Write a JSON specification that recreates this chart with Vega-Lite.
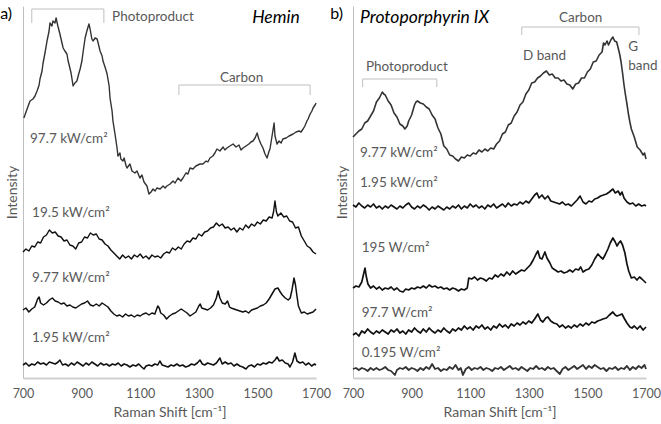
{
"$schema":"https://vega.github.io/schema/vega-lite/v6.json",
"padding":{"left":0,"top":5,"right":0,"bottom":0},
"autosize":{"type":"pad"},
"bounds":"flush",
"spacing":37,
"config":{"view":{"stroke":null},"font":"Lato",
"axisX":{"ticks":false,"grid":false,"labelPadding":9,"labelFontSize":12.5,"labelColor":"#595959","labelFlush":false,"labelOverlap":false,"titleFontSize":14,"titleFontWeight":"normal","titleColor":"#595959","titlePadding":6,"domainColor":"#d0d0d0","domainWidth":2},
"axisY":{"labels":false,"ticks":false,"grid":false,"titleFontSize":14,"titleFontWeight":"normal","titleColor":"#595959","titlePadding":4,"domainColor":"#bfbfbf","domainWidth":1}},
"datasets":{
"hemin":[
{"s":"h1","x":703,"y":260},{"s":"h1","x":714,"y":269},{"s":"h1","x":724,"y":277},{"s":"h1","x":734,"y":279},{"s":"h1","x":741,"y":282},{"s":"h1","x":748,"y":287},{"s":"h1","x":755,"y":293},{"s":"h1","x":758,"y":299},{"s":"h1","x":765,"y":307},{"s":"h1","x":768,"y":314},{"s":"h1","x":775,"y":325},{"s":"h1","x":782,"y":337},{"s":"h1","x":789,"y":347},{"s":"h1","x":792,"y":355},{"s":"h1","x":799,"y":352},{"s":"h1","x":802,"y":357},{"s":"h1","x":809,"y":355},{"s":"h1","x":813,"y":360},{"s":"h1","x":819,"y":352},{"s":"h1","x":826,"y":344},{"s":"h1","x":833,"y":335},{"s":"h1","x":837,"y":330},{"s":"h1","x":843,"y":327},{"s":"h1","x":850,"y":324},{"s":"h1","x":854,"y":317},{"s":"h1","x":860,"y":310},{"s":"h1","x":864,"y":305},{"s":"h1","x":871,"y":292},{"s":"h1","x":877,"y":295},{"s":"h1","x":884,"y":297},{"s":"h1","x":891,"y":305},{"s":"h1","x":895,"y":309},{"s":"h1","x":901,"y":317},{"s":"h1","x":908,"y":332},{"s":"h1","x":912,"y":340},{"s":"h1","x":918,"y":347},{"s":"h1","x":925,"y":354},{"s":"h1","x":929,"y":349},{"s":"h1","x":935,"y":339},{"s":"h1","x":939,"y":337},{"s":"h1","x":946,"y":340},{"s":"h1","x":953,"y":339},{"s":"h1","x":959,"y":332},{"s":"h1","x":963,"y":327},{"s":"h1","x":970,"y":322},{"s":"h1","x":973,"y":317},{"s":"h1","x":980,"y":311},{"s":"h1","x":987,"y":304},{"s":"h1","x":994,"y":292},{"s":"h1","x":997,"y":280},{"s":"h1","x":1004,"y":267},{"s":"h1","x":1007,"y":257},{"s":"h1","x":1014,"y":244},{"s":"h1","x":1021,"y":230},{"s":"h1","x":1024,"y":222},{"s":"h1","x":1031,"y":225},{"s":"h1","x":1034,"y":219},{"s":"h1","x":1041,"y":217},{"s":"h1","x":1045,"y":220},{"s":"h1","x":1052,"y":212},{"s":"h1","x":1055,"y":210},{"s":"h1","x":1065,"y":214},{"s":"h1","x":1072,"y":207},{"s":"h1","x":1082,"y":205},{"s":"h1","x":1089,"y":207},{"s":"h1","x":1099,"y":200},{"s":"h1","x":1106,"y":203},{"s":"h1","x":1113,"y":196},{"s":"h1","x":1123,"y":192},{"s":"h1","x":1130,"y":184},{"s":"h1","x":1137,"y":186},{"s":"h1","x":1144,"y":189},{"s":"h1","x":1151,"y":187},{"s":"h1","x":1157,"y":190},{"s":"h1","x":1168,"y":189},{"s":"h1","x":1178,"y":192},{"s":"h1","x":1185,"y":190},{"s":"h1","x":1191,"y":192},{"s":"h1","x":1202,"y":194},{"s":"h1","x":1212,"y":197},{"s":"h1","x":1219,"y":195},{"s":"h1","x":1229,"y":200},{"s":"h1","x":1239,"y":197},{"s":"h1","x":1246,"y":200},{"s":"h1","x":1256,"y":205},{"s":"h1","x":1263,"y":204},{"s":"h1","x":1270,"y":210},{"s":"h1","x":1280,"y":209},{"s":"h1","x":1290,"y":212},{"s":"h1","x":1304,"y":214},{"s":"h1","x":1314,"y":214},{"s":"h1","x":1325,"y":217},{"s":"h1","x":1331,"y":216},{"s":"h1","x":1338,"y":220},{"s":"h1","x":1348,"y":222},{"s":"h1","x":1355,"y":225},{"s":"h1","x":1362,"y":229},{"s":"h1","x":1372,"y":227},{"s":"h1","x":1383,"y":231},{"s":"h1","x":1389,"y":228},{"s":"h1","x":1396,"y":230},{"s":"h1","x":1406,"y":232},{"s":"h1","x":1417,"y":234},{"s":"h1","x":1427,"y":231},{"s":"h1","x":1437,"y":233},{"s":"h1","x":1444,"y":228},{"s":"h1","x":1451,"y":230},{"s":"h1","x":1461,"y":232},{"s":"h1","x":1471,"y":234},{"s":"h1","x":1478,"y":236},{"s":"h1","x":1485,"y":237},{"s":"h1","x":1492,"y":240},{"s":"h1","x":1499,"y":245},{"s":"h1","x":1505,"y":239},{"s":"h1","x":1512,"y":234},{"s":"h1","x":1519,"y":230},{"s":"h1","x":1526,"y":224},{"s":"h1","x":1533,"y":220},{"s":"h1","x":1540,"y":227},{"s":"h1","x":1543,"y":229},{"s":"h1","x":1550,"y":242},{"s":"h1","x":1557,"y":255},{"s":"h1","x":1560,"y":242},{"s":"h1","x":1567,"y":234},{"s":"h1","x":1574,"y":237},{"s":"h1","x":1581,"y":235},{"s":"h1","x":1587,"y":239},{"s":"h1","x":1598,"y":240},{"s":"h1","x":1608,"y":242},{"s":"h1","x":1615,"y":243},{"s":"h1","x":1622,"y":244},{"s":"h1","x":1632,"y":246},{"s":"h1","x":1642,"y":247},{"s":"h1","x":1649,"y":246},{"s":"h1","x":1656,"y":249},{"s":"h1","x":1662,"y":252},{"s":"h1","x":1669,"y":257},{"s":"h1","x":1673,"y":259},{"s":"h1","x":1680,"y":264},{"s":"h1","x":1686,"y":267},{"s":"h1","x":1690,"y":270},{"s":"h1","x":1697,"y":273},{"s":"h1","x":1700,"y":275},
{"s":"h2","x":700,"y":126},{"s":"h2","x":710,"y":129},{"s":"h2","x":720,"y":127},{"s":"h2","x":730,"y":132},{"s":"h2","x":740,"y":131},{"s":"h2","x":750,"y":136},{"s":"h2","x":760,"y":135},{"s":"h2","x":770,"y":141},{"s":"h2","x":780,"y":143},{"s":"h2","x":790,"y":148},{"s":"h2","x":800,"y":145},{"s":"h2","x":810,"y":146},{"s":"h2","x":820,"y":142},{"s":"h2","x":830,"y":141},{"s":"h2","x":840,"y":137},{"s":"h2","x":850,"y":138},{"s":"h2","x":860,"y":133},{"s":"h2","x":870,"y":132},{"s":"h2","x":880,"y":129},{"s":"h2","x":890,"y":135},{"s":"h2","x":900,"y":136},{"s":"h2","x":910,"y":141},{"s":"h2","x":920,"y":140},{"s":"h2","x":930,"y":145},{"s":"h2","x":940,"y":143},{"s":"h2","x":950,"y":144},{"s":"h2","x":960,"y":139},{"s":"h2","x":970,"y":138},{"s":"h2","x":980,"y":134},{"s":"h2","x":990,"y":132},{"s":"h2","x":1000,"y":128},{"s":"h2","x":1010,"y":125},{"s":"h2","x":1020,"y":122},{"s":"h2","x":1030,"y":119},{"s":"h2","x":1040,"y":123},{"s":"h2","x":1050,"y":120},{"s":"h2","x":1060,"y":122},{"s":"h2","x":1070,"y":119},{"s":"h2","x":1080,"y":123},{"s":"h2","x":1090,"y":121},{"s":"h2","x":1100,"y":124},{"s":"h2","x":1110,"y":120},{"s":"h2","x":1120,"y":122},{"s":"h2","x":1130,"y":119},{"s":"h2","x":1140,"y":123},{"s":"h2","x":1150,"y":121},{"s":"h2","x":1160,"y":122},{"s":"h2","x":1170,"y":120},{"s":"h2","x":1180,"y":124},{"s":"h2","x":1190,"y":126},{"s":"h2","x":1200,"y":125},{"s":"h2","x":1210,"y":130},{"s":"h2","x":1220,"y":128},{"s":"h2","x":1230,"y":131},{"s":"h2","x":1240,"y":129},{"s":"h2","x":1250,"y":134},{"s":"h2","x":1260,"y":137},{"s":"h2","x":1270,"y":136},{"s":"h2","x":1280,"y":140},{"s":"h2","x":1290,"y":139},{"s":"h2","x":1300,"y":144},{"s":"h2","x":1310,"y":142},{"s":"h2","x":1320,"y":146},{"s":"h2","x":1330,"y":147},{"s":"h2","x":1340,"y":150},{"s":"h2","x":1350,"y":151},{"s":"h2","x":1360,"y":155},{"s":"h2","x":1370,"y":152},{"s":"h2","x":1380,"y":154},{"s":"h2","x":1390,"y":150},{"s":"h2","x":1400,"y":151},{"s":"h2","x":1410,"y":148},{"s":"h2","x":1420,"y":150},{"s":"h2","x":1430,"y":146},{"s":"h2","x":1440,"y":150},{"s":"h2","x":1450,"y":148},{"s":"h2","x":1460,"y":153},{"s":"h2","x":1470,"y":150},{"s":"h2","x":1480,"y":154},{"s":"h2","x":1490,"y":152},{"s":"h2","x":1500,"y":156},{"s":"h2","x":1510,"y":154},{"s":"h2","x":1520,"y":158},{"s":"h2","x":1530,"y":157},{"s":"h2","x":1540,"y":161},{"s":"h2","x":1550,"y":160},{"s":"h2","x":1555,"y":166},{"s":"h2","x":1560,"y":177},{"s":"h2","x":1565,"y":166},{"s":"h2","x":1570,"y":162},{"s":"h2","x":1580,"y":165},{"s":"h2","x":1590,"y":161},{"s":"h2","x":1600,"y":162},{"s":"h2","x":1610,"y":157},{"s":"h2","x":1620,"y":156},{"s":"h2","x":1630,"y":150},{"s":"h2","x":1640,"y":151},{"s":"h2","x":1650,"y":142},{"s":"h2","x":1660,"y":137},{"s":"h2","x":1670,"y":132},{"s":"h2","x":1680,"y":130},{"s":"h2","x":1690,"y":126},{"s":"h2","x":1700,"y":124},
{"s":"h3","x":700,"y":68},{"s":"h3","x":710,"y":70},{"s":"h3","x":720,"y":66},{"s":"h3","x":730,"y":69},{"s":"h3","x":740,"y":71},{"s":"h3","x":750,"y":79},{"s":"h3","x":755,"y":81},{"s":"h3","x":760,"y":75},{"s":"h3","x":770,"y":73},{"s":"h3","x":780,"y":75},{"s":"h3","x":790,"y":78},{"s":"h3","x":800,"y":80},{"s":"h3","x":810,"y":77},{"s":"h3","x":820,"y":76},{"s":"h3","x":830,"y":74},{"s":"h3","x":840,"y":75},{"s":"h3","x":850,"y":72},{"s":"h3","x":860,"y":73},{"s":"h3","x":870,"y":71},{"s":"h3","x":880,"y":70},{"s":"h3","x":890,"y":72},{"s":"h3","x":900,"y":74},{"s":"h3","x":910,"y":75},{"s":"h3","x":920,"y":77},{"s":"h3","x":930,"y":73},{"s":"h3","x":940,"y":72},{"s":"h3","x":950,"y":74},{"s":"h3","x":960,"y":72},{"s":"h3","x":970,"y":75},{"s":"h3","x":980,"y":73},{"s":"h3","x":990,"y":71},{"s":"h3","x":1000,"y":67},{"s":"h3","x":1010,"y":64},{"s":"h3","x":1020,"y":62},{"s":"h3","x":1030,"y":63},{"s":"h3","x":1040,"y":61},{"s":"h3","x":1050,"y":64},{"s":"h3","x":1060,"y":62},{"s":"h3","x":1070,"y":63},{"s":"h3","x":1080,"y":61},{"s":"h3","x":1090,"y":63},{"s":"h3","x":1100,"y":62},{"s":"h3","x":1110,"y":64},{"s":"h3","x":1120,"y":65},{"s":"h3","x":1130,"y":63},{"s":"h3","x":1140,"y":65},{"s":"h3","x":1150,"y":64},{"s":"h3","x":1160,"y":72},{"s":"h3","x":1165,"y":70},{"s":"h3","x":1170,"y":65},{"s":"h3","x":1180,"y":63},{"s":"h3","x":1190,"y":59},{"s":"h3","x":1200,"y":62},{"s":"h3","x":1210,"y":64},{"s":"h3","x":1220,"y":65},{"s":"h3","x":1230,"y":67},{"s":"h3","x":1240,"y":69},{"s":"h3","x":1250,"y":67},{"s":"h3","x":1260,"y":65},{"s":"h3","x":1270,"y":62},{"s":"h3","x":1280,"y":64},{"s":"h3","x":1290,"y":66},{"s":"h3","x":1300,"y":72},{"s":"h3","x":1305,"y":74},{"s":"h3","x":1310,"y":70},{"s":"h3","x":1320,"y":69},{"s":"h3","x":1330,"y":68},{"s":"h3","x":1340,"y":70},{"s":"h3","x":1350,"y":73},{"s":"h3","x":1360,"y":80},{"s":"h3","x":1366,"y":87},{"s":"h3","x":1372,"y":80},{"s":"h3","x":1380,"y":75},{"s":"h3","x":1390,"y":74},{"s":"h3","x":1398,"y":77},{"s":"h3","x":1405,"y":71},{"s":"h3","x":1410,"y":70},{"s":"h3","x":1420,"y":69},{"s":"h3","x":1430,"y":68},{"s":"h3","x":1440,"y":67},{"s":"h3","x":1450,"y":66},{"s":"h3","x":1460,"y":67},{"s":"h3","x":1470,"y":65},{"s":"h3","x":1480,"y":68},{"s":"h3","x":1490,"y":69},{"s":"h3","x":1500,"y":70},{"s":"h3","x":1510,"y":72},{"s":"h3","x":1520,"y":73},{"s":"h3","x":1530,"y":75},{"s":"h3","x":1540,"y":79},{"s":"h3","x":1550,"y":84},{"s":"h3","x":1560,"y":89},{"s":"h3","x":1570,"y":90},{"s":"h3","x":1578,"y":86},{"s":"h3","x":1585,"y":83},{"s":"h3","x":1595,"y":80},{"s":"h3","x":1605,"y":78},{"s":"h3","x":1612,"y":80},{"s":"h3","x":1618,"y":88},{"s":"h3","x":1625,"y":100},{"s":"h3","x":1630,"y":93},{"s":"h3","x":1635,"y":82},{"s":"h3","x":1640,"y":72},{"s":"h3","x":1650,"y":65},{"s":"h3","x":1660,"y":66},{"s":"h3","x":1670,"y":64},{"s":"h3","x":1680,"y":65},{"s":"h3","x":1690,"y":66},{"s":"h3","x":1700,"y":69},
{"s":"h4","x":700,"y":13},{"s":"h4","x":710,"y":15},{"s":"h4","x":720,"y":12},{"s":"h4","x":730,"y":14},{"s":"h4","x":740,"y":13},{"s":"h4","x":750,"y":16},{"s":"h4","x":760,"y":14},{"s":"h4","x":770,"y":15},{"s":"h4","x":780,"y":13},{"s":"h4","x":790,"y":16},{"s":"h4","x":800,"y":15},{"s":"h4","x":810,"y":14},{"s":"h4","x":820,"y":16},{"s":"h4","x":826,"y":18},{"s":"h4","x":835,"y":13},{"s":"h4","x":845,"y":14},{"s":"h4","x":855,"y":12},{"s":"h4","x":865,"y":15},{"s":"h4","x":875,"y":13},{"s":"h4","x":885,"y":16},{"s":"h4","x":895,"y":14},{"s":"h4","x":905,"y":12},{"s":"h4","x":915,"y":15},{"s":"h4","x":925,"y":13},{"s":"h4","x":935,"y":16},{"s":"h4","x":945,"y":14},{"s":"h4","x":955,"y":12},{"s":"h4","x":965,"y":15},{"s":"h4","x":975,"y":13},{"s":"h4","x":985,"y":14},{"s":"h4","x":995,"y":12},{"s":"h4","x":1005,"y":14},{"s":"h4","x":1015,"y":13},{"s":"h4","x":1025,"y":15},{"s":"h4","x":1035,"y":12},{"s":"h4","x":1045,"y":14},{"s":"h4","x":1055,"y":13},{"s":"h4","x":1065,"y":11},{"s":"h4","x":1075,"y":13},{"s":"h4","x":1085,"y":12},{"s":"h4","x":1095,"y":14},{"s":"h4","x":1105,"y":11},{"s":"h4","x":1113,"y":9},{"s":"h4","x":1120,"y":12},{"s":"h4","x":1130,"y":13},{"s":"h4","x":1140,"y":12},{"s":"h4","x":1150,"y":14},{"s":"h4","x":1160,"y":13},{"s":"h4","x":1167,"y":17},{"s":"h4","x":1175,"y":13},{"s":"h4","x":1185,"y":12},{"s":"h4","x":1195,"y":11},{"s":"h4","x":1205,"y":13},{"s":"h4","x":1215,"y":12},{"s":"h4","x":1225,"y":14},{"s":"h4","x":1235,"y":12},{"s":"h4","x":1245,"y":13},{"s":"h4","x":1255,"y":11},{"s":"h4","x":1265,"y":12},{"s":"h4","x":1275,"y":14},{"s":"h4","x":1285,"y":13},{"s":"h4","x":1295,"y":15},{"s":"h4","x":1304,"y":18},{"s":"h4","x":1312,"y":14},{"s":"h4","x":1320,"y":13},{"s":"h4","x":1330,"y":15},{"s":"h4","x":1340,"y":14},{"s":"h4","x":1350,"y":13},{"s":"h4","x":1360,"y":15},{"s":"h4","x":1372,"y":20},{"s":"h4","x":1380,"y":14},{"s":"h4","x":1390,"y":16},{"s":"h4","x":1400,"y":14},{"s":"h4","x":1410,"y":15},{"s":"h4","x":1420,"y":12},{"s":"h4","x":1430,"y":14},{"s":"h4","x":1440,"y":12},{"s":"h4","x":1450,"y":11},{"s":"h4","x":1461,"y":9},{"s":"h4","x":1470,"y":12},{"s":"h4","x":1480,"y":13},{"s":"h4","x":1490,"y":11},{"s":"h4","x":1500,"y":14},{"s":"h4","x":1510,"y":13},{"s":"h4","x":1520,"y":15},{"s":"h4","x":1530,"y":14},{"s":"h4","x":1540,"y":16},{"s":"h4","x":1550,"y":15},{"s":"h4","x":1560,"y":18},{"s":"h4","x":1567,"y":21},{"s":"h4","x":1575,"y":17},{"s":"h4","x":1585,"y":18},{"s":"h4","x":1595,"y":15},{"s":"h4","x":1605,"y":14},{"s":"h4","x":1611,"y":11},{"s":"h4","x":1620,"y":16},{"s":"h4","x":1628,"y":25},{"s":"h4","x":1635,"y":17},{"s":"h4","x":1645,"y":15},{"s":"h4","x":1655,"y":16},{"s":"h4","x":1665,"y":13},{"s":"h4","x":1675,"y":15},{"s":"h4","x":1685,"y":12},{"s":"h4","x":1695,"y":14},{"s":"h4","x":1700,"y":13}
],
"ppix":[
{"s":"p1","x":700,"y":241},{"s":"p1","x":710,"y":244},{"s":"p1","x":720,"y":247},{"s":"p1","x":730,"y":249},{"s":"p1","x":740,"y":255},{"s":"p1","x":750,"y":257},{"s":"p1","x":760,"y":262},{"s":"p1","x":770,"y":267},{"s":"p1","x":780,"y":276},{"s":"p1","x":790,"y":280},{"s":"p1","x":800,"y":286},{"s":"p1","x":805,"y":284},{"s":"p1","x":810,"y":283},{"s":"p1","x":820,"y":277},{"s":"p1","x":830,"y":273},{"s":"p1","x":840,"y":265},{"s":"p1","x":850,"y":261},{"s":"p1","x":860,"y":254},{"s":"p1","x":870,"y":252},{"s":"p1","x":877,"y":249},{"s":"p1","x":885,"y":252},{"s":"p1","x":890,"y":257},{"s":"p1","x":900,"y":263},{"s":"p1","x":910,"y":273},{"s":"p1","x":915,"y":276},{"s":"p1","x":920,"y":277},{"s":"p1","x":930,"y":275},{"s":"p1","x":940,"y":274},{"s":"p1","x":950,"y":271},{"s":"p1","x":960,"y":269},{"s":"p1","x":970,"y":263},{"s":"p1","x":980,"y":259},{"s":"p1","x":990,"y":250},{"s":"p1","x":1000,"y":244},{"s":"p1","x":1010,"y":232},{"s":"p1","x":1020,"y":229},{"s":"p1","x":1030,"y":223},{"s":"p1","x":1040,"y":222},{"s":"p1","x":1050,"y":219},{"s":"p1","x":1060,"y":217},{"s":"p1","x":1070,"y":221},{"s":"p1","x":1080,"y":220},{"s":"p1","x":1090,"y":223},{"s":"p1","x":1100,"y":222},{"s":"p1","x":1110,"y":225},{"s":"p1","x":1120,"y":224},{"s":"p1","x":1130,"y":228},{"s":"p1","x":1140,"y":226},{"s":"p1","x":1150,"y":229},{"s":"p1","x":1160,"y":227},{"s":"p1","x":1170,"y":230},{"s":"p1","x":1180,"y":229},{"s":"p1","x":1190,"y":234},{"s":"p1","x":1200,"y":237},{"s":"p1","x":1210,"y":244},{"s":"p1","x":1220,"y":246},{"s":"p1","x":1230,"y":253},{"s":"p1","x":1240,"y":255},{"s":"p1","x":1250,"y":262},{"s":"p1","x":1260,"y":266},{"s":"p1","x":1270,"y":273},{"s":"p1","x":1280,"y":276},{"s":"p1","x":1290,"y":284},{"s":"p1","x":1300,"y":288},{"s":"p1","x":1310,"y":295},{"s":"p1","x":1320,"y":296},{"s":"p1","x":1330,"y":300},{"s":"p1","x":1340,"y":302},{"s":"p1","x":1350,"y":305},{"s":"p1","x":1360,"y":307},{"s":"p1","x":1370,"y":303},{"s":"p1","x":1380,"y":304},{"s":"p1","x":1390,"y":300},{"s":"p1","x":1400,"y":300},{"s":"p1","x":1410,"y":297},{"s":"p1","x":1420,"y":298},{"s":"p1","x":1430,"y":294},{"s":"p1","x":1440,"y":293},{"s":"p1","x":1450,"y":289},{"s":"p1","x":1460,"y":294},{"s":"p1","x":1470,"y":295},{"s":"p1","x":1480,"y":300},{"s":"p1","x":1490,"y":300},{"s":"p1","x":1500,"y":306},{"s":"p1","x":1510,"y":309},{"s":"p1","x":1520,"y":316},{"s":"p1","x":1530,"y":317},{"s":"p1","x":1540,"y":323},{"s":"p1","x":1550,"y":326},{"s":"p1","x":1555,"y":335},{"s":"p1","x":1560,"y":333},{"s":"p1","x":1567,"y":337},{"s":"p1","x":1572,"y":333},{"s":"p1","x":1580,"y":338},{"s":"p1","x":1587,"y":341},{"s":"p1","x":1593,"y":337},{"s":"p1","x":1600,"y":336},{"s":"p1","x":1605,"y":330},{"s":"p1","x":1610,"y":324},{"s":"p1","x":1615,"y":316},{"s":"p1","x":1620,"y":305},{"s":"p1","x":1625,"y":293},{"s":"p1","x":1630,"y":283},{"s":"p1","x":1635,"y":274},{"s":"p1","x":1640,"y":264},{"s":"p1","x":1645,"y":256},{"s":"p1","x":1650,"y":249},{"s":"p1","x":1660,"y":241},{"s":"p1","x":1670,"y":231},{"s":"p1","x":1680,"y":228},{"s":"p1","x":1690,"y":223},{"s":"p1","x":1695,"y":225},{"s":"p1","x":1700,"y":219},
{"s":"p2","x":700,"y":173},{"s":"p2","x":710,"y":171},{"s":"p2","x":720,"y":175},{"s":"p2","x":730,"y":172},{"s":"p2","x":740,"y":170},{"s":"p2","x":750,"y":173},{"s":"p2","x":760,"y":171},{"s":"p2","x":770,"y":174},{"s":"p2","x":780,"y":170},{"s":"p2","x":790,"y":172},{"s":"p2","x":800,"y":169},{"s":"p2","x":810,"y":172},{"s":"p2","x":820,"y":170},{"s":"p2","x":830,"y":173},{"s":"p2","x":840,"y":171},{"s":"p2","x":850,"y":169},{"s":"p2","x":860,"y":172},{"s":"p2","x":870,"y":170},{"s":"p2","x":880,"y":173},{"s":"p2","x":890,"y":175},{"s":"p2","x":900,"y":171},{"s":"p2","x":910,"y":169},{"s":"p2","x":920,"y":172},{"s":"p2","x":930,"y":170},{"s":"p2","x":940,"y":173},{"s":"p2","x":950,"y":171},{"s":"p2","x":960,"y":168},{"s":"p2","x":970,"y":171},{"s":"p2","x":980,"y":169},{"s":"p2","x":990,"y":172},{"s":"p2","x":1000,"y":170},{"s":"p2","x":1010,"y":168},{"s":"p2","x":1020,"y":171},{"s":"p2","x":1030,"y":169},{"s":"p2","x":1040,"y":172},{"s":"p2","x":1050,"y":170},{"s":"p2","x":1060,"y":173},{"s":"p2","x":1070,"y":169},{"s":"p2","x":1080,"y":172},{"s":"p2","x":1090,"y":170},{"s":"p2","x":1100,"y":174},{"s":"p2","x":1110,"y":171},{"s":"p2","x":1120,"y":173},{"s":"p2","x":1130,"y":170},{"s":"p2","x":1140,"y":172},{"s":"p2","x":1150,"y":169},{"s":"p2","x":1160,"y":173},{"s":"p2","x":1170,"y":171},{"s":"p2","x":1180,"y":174},{"s":"p2","x":1190,"y":170},{"s":"p2","x":1200,"y":172},{"s":"p2","x":1210,"y":174},{"s":"p2","x":1220,"y":171},{"s":"p2","x":1230,"y":175},{"s":"p2","x":1240,"y":172},{"s":"p2","x":1250,"y":174},{"s":"p2","x":1260,"y":173},{"s":"p2","x":1270,"y":176},{"s":"p2","x":1280,"y":174},{"s":"p2","x":1290,"y":177},{"s":"p2","x":1300,"y":175},{"s":"p2","x":1310,"y":179},{"s":"p2","x":1320,"y":183},{"s":"p2","x":1328,"y":185},{"s":"p2","x":1335,"y":180},{"s":"p2","x":1345,"y":183},{"s":"p2","x":1355,"y":179},{"s":"p2","x":1365,"y":182},{"s":"p2","x":1375,"y":177},{"s":"p2","x":1385,"y":176},{"s":"p2","x":1395,"y":175},{"s":"p2","x":1405,"y":174},{"s":"p2","x":1415,"y":176},{"s":"p2","x":1425,"y":173},{"s":"p2","x":1435,"y":174},{"s":"p2","x":1445,"y":172},{"s":"p2","x":1455,"y":175},{"s":"p2","x":1465,"y":178},{"s":"p2","x":1475,"y":182},{"s":"p2","x":1485,"y":176},{"s":"p2","x":1495,"y":174},{"s":"p2","x":1505,"y":177},{"s":"p2","x":1515,"y":176},{"s":"p2","x":1525,"y":179},{"s":"p2","x":1535,"y":180},{"s":"p2","x":1545,"y":182},{"s":"p2","x":1555,"y":183},{"s":"p2","x":1565,"y":184},{"s":"p2","x":1575,"y":186},{"s":"p2","x":1587,"y":189},{"s":"p2","x":1595,"y":185},{"s":"p2","x":1605,"y":187},{"s":"p2","x":1612,"y":183},{"s":"p2","x":1618,"y":186},{"s":"p2","x":1625,"y":180},{"s":"p2","x":1635,"y":176},{"s":"p2","x":1645,"y":174},{"s":"p2","x":1655,"y":175},{"s":"p2","x":1665,"y":172},{"s":"p2","x":1675,"y":174},{"s":"p2","x":1685,"y":172},{"s":"p2","x":1695,"y":173},{"s":"p2","x":1700,"y":172},
{"s":"p3","x":700,"y":90},{"s":"p3","x":710,"y":92},{"s":"p3","x":720,"y":91},{"s":"p3","x":730,"y":96},{"s":"p3","x":737,"y":105},{"s":"p3","x":741,"y":110},{"s":"p3","x":745,"y":102},{"s":"p3","x":751,"y":94},{"s":"p3","x":760,"y":90},{"s":"p3","x":770,"y":92},{"s":"p3","x":780,"y":89},{"s":"p3","x":790,"y":91},{"s":"p3","x":800,"y":88},{"s":"p3","x":810,"y":90},{"s":"p3","x":820,"y":89},{"s":"p3","x":830,"y":91},{"s":"p3","x":840,"y":88},{"s":"p3","x":850,"y":90},{"s":"p3","x":860,"y":87},{"s":"p3","x":871,"y":86},{"s":"p3","x":880,"y":89},{"s":"p3","x":890,"y":88},{"s":"p3","x":900,"y":90},{"s":"p3","x":910,"y":89},{"s":"p3","x":920,"y":91},{"s":"p3","x":930,"y":90},{"s":"p3","x":940,"y":92},{"s":"p3","x":950,"y":90},{"s":"p3","x":960,"y":93},{"s":"p3","x":970,"y":91},{"s":"p3","x":980,"y":92},{"s":"p3","x":990,"y":90},{"s":"p3","x":1000,"y":91},{"s":"p3","x":1010,"y":89},{"s":"p3","x":1020,"y":90},{"s":"p3","x":1030,"y":88},{"s":"p3","x":1040,"y":90},{"s":"p3","x":1050,"y":89},{"s":"p3","x":1060,"y":87},{"s":"p3","x":1070,"y":89},{"s":"p3","x":1080,"y":88},{"s":"p3","x":1090,"y":90},{"s":"p3","x":1095,"y":100},{"s":"p3","x":1105,"y":99},{"s":"p3","x":1115,"y":101},{"s":"p3","x":1125,"y":98},{"s":"p3","x":1135,"y":100},{"s":"p3","x":1145,"y":99},{"s":"p3","x":1155,"y":97},{"s":"p3","x":1165,"y":100},{"s":"p3","x":1175,"y":99},{"s":"p3","x":1185,"y":103},{"s":"p3","x":1195,"y":101},{"s":"p3","x":1205,"y":104},{"s":"p3","x":1215,"y":102},{"s":"p3","x":1225,"y":106},{"s":"p3","x":1235,"y":103},{"s":"p3","x":1245,"y":107},{"s":"p3","x":1255,"y":104},{"s":"p3","x":1265,"y":106},{"s":"p3","x":1275,"y":108},{"s":"p3","x":1285,"y":107},{"s":"p3","x":1295,"y":110},{"s":"p3","x":1305,"y":113},{"s":"p3","x":1315,"y":118},{"s":"p3","x":1325,"y":124},{"s":"p3","x":1331,"y":127},{"s":"p3","x":1338,"y":120},{"s":"p3","x":1345,"y":119},{"s":"p3","x":1355,"y":126},{"s":"p3","x":1362,"y":120},{"s":"p3","x":1372,"y":115},{"s":"p3","x":1380,"y":110},{"s":"p3","x":1390,"y":108},{"s":"p3","x":1400,"y":106},{"s":"p3","x":1410,"y":107},{"s":"p3","x":1420,"y":105},{"s":"p3","x":1430,"y":106},{"s":"p3","x":1440,"y":108},{"s":"p3","x":1450,"y":106},{"s":"p3","x":1460,"y":109},{"s":"p3","x":1470,"y":108},{"s":"p3","x":1477,"y":111},{"s":"p3","x":1485,"y":106},{"s":"p3","x":1495,"y":108},{"s":"p3","x":1505,"y":109},{"s":"p3","x":1515,"y":113},{"s":"p3","x":1525,"y":119},{"s":"p3","x":1536,"y":124},{"s":"p3","x":1545,"y":121},{"s":"p3","x":1553,"y":119},{"s":"p3","x":1562,"y":124},{"s":"p3","x":1570,"y":129},{"s":"p3","x":1578,"y":135},{"s":"p3","x":1587,"y":140},{"s":"p3","x":1595,"y":136},{"s":"p3","x":1601,"y":132},{"s":"p3","x":1607,"y":135},{"s":"p3","x":1613,"y":137},{"s":"p3","x":1620,"y":133},{"s":"p3","x":1628,"y":125},{"s":"p3","x":1635,"y":114},{"s":"p3","x":1641,"y":107},{"s":"p3","x":1650,"y":100},{"s":"p3","x":1660,"y":101},{"s":"p3","x":1669,"y":98},{"s":"p3","x":1678,"y":101},{"s":"p3","x":1686,"y":99},{"s":"p3","x":1693,"y":97},{"s":"p3","x":1700,"y":95},
{"s":"p4","x":700,"y":43},{"s":"p4","x":710,"y":45},{"s":"p4","x":720,"y":42},{"s":"p4","x":730,"y":47},{"s":"p4","x":740,"y":45},{"s":"p4","x":750,"y":49},{"s":"p4","x":760,"y":46},{"s":"p4","x":770,"y":44},{"s":"p4","x":780,"y":47},{"s":"p4","x":790,"y":45},{"s":"p4","x":800,"y":48},{"s":"p4","x":810,"y":46},{"s":"p4","x":820,"y":44},{"s":"p4","x":830,"y":48},{"s":"p4","x":840,"y":46},{"s":"p4","x":850,"y":49},{"s":"p4","x":860,"y":45},{"s":"p4","x":870,"y":47},{"s":"p4","x":880,"y":44},{"s":"p4","x":890,"y":48},{"s":"p4","x":900,"y":46},{"s":"p4","x":910,"y":50},{"s":"p4","x":920,"y":47},{"s":"p4","x":930,"y":45},{"s":"p4","x":940,"y":49},{"s":"p4","x":950,"y":46},{"s":"p4","x":960,"y":50},{"s":"p4","x":970,"y":47},{"s":"p4","x":980,"y":45},{"s":"p4","x":990,"y":48},{"s":"p4","x":1000,"y":46},{"s":"p4","x":1010,"y":50},{"s":"p4","x":1020,"y":47},{"s":"p4","x":1030,"y":45},{"s":"p4","x":1040,"y":49},{"s":"p4","x":1050,"y":47},{"s":"p4","x":1060,"y":50},{"s":"p4","x":1070,"y":48},{"s":"p4","x":1080,"y":52},{"s":"p4","x":1090,"y":49},{"s":"p4","x":1100,"y":51},{"s":"p4","x":1110,"y":48},{"s":"p4","x":1120,"y":52},{"s":"p4","x":1130,"y":50},{"s":"p4","x":1140,"y":53},{"s":"p4","x":1150,"y":49},{"s":"p4","x":1160,"y":51},{"s":"p4","x":1170,"y":48},{"s":"p4","x":1180,"y":52},{"s":"p4","x":1190,"y":50},{"s":"p4","x":1200,"y":54},{"s":"p4","x":1210,"y":51},{"s":"p4","x":1220,"y":53},{"s":"p4","x":1230,"y":50},{"s":"p4","x":1240,"y":54},{"s":"p4","x":1250,"y":52},{"s":"p4","x":1260,"y":55},{"s":"p4","x":1270,"y":53},{"s":"p4","x":1280,"y":56},{"s":"p4","x":1290,"y":54},{"s":"p4","x":1300,"y":57},{"s":"p4","x":1310,"y":55},{"s":"p4","x":1320,"y":59},{"s":"p4","x":1331,"y":64},{"s":"p4","x":1340,"y":58},{"s":"p4","x":1348,"y":56},{"s":"p4","x":1358,"y":60},{"s":"p4","x":1365,"y":61},{"s":"p4","x":1375,"y":57},{"s":"p4","x":1385,"y":55},{"s":"p4","x":1396,"y":54},{"s":"p4","x":1405,"y":51},{"s":"p4","x":1415,"y":53},{"s":"p4","x":1425,"y":50},{"s":"p4","x":1435,"y":52},{"s":"p4","x":1445,"y":50},{"s":"p4","x":1455,"y":53},{"s":"p4","x":1465,"y":51},{"s":"p4","x":1475,"y":54},{"s":"p4","x":1485,"y":52},{"s":"p4","x":1495,"y":55},{"s":"p4","x":1505,"y":53},{"s":"p4","x":1515,"y":56},{"s":"p4","x":1525,"y":55},{"s":"p4","x":1535,"y":57},{"s":"p4","x":1545,"y":58},{"s":"p4","x":1553,"y":59},{"s":"p4","x":1565,"y":60},{"s":"p4","x":1575,"y":63},{"s":"p4","x":1587,"y":66},{"s":"p4","x":1595,"y":63},{"s":"p4","x":1601,"y":62},{"s":"p4","x":1610,"y":63},{"s":"p4","x":1618,"y":64},{"s":"p4","x":1627,"y":59},{"s":"p4","x":1635,"y":55},{"s":"p4","x":1645,"y":51},{"s":"p4","x":1652,"y":50},{"s":"p4","x":1660,"y":52},{"s":"p4","x":1670,"y":49},{"s":"p4","x":1680,"y":52},{"s":"p4","x":1690,"y":48},{"s":"p4","x":1700,"y":51},
{"s":"p5","x":700,"y":9},{"s":"p5","x":710,"y":10},{"s":"p5","x":720,"y":8},{"s":"p5","x":730,"y":10},{"s":"p5","x":740,"y":9},{"s":"p5","x":750,"y":7},{"s":"p5","x":760,"y":10},{"s":"p5","x":770,"y":8},{"s":"p5","x":780,"y":10},{"s":"p5","x":790,"y":8},{"s":"p5","x":800,"y":9},{"s":"p5","x":810,"y":11},{"s":"p5","x":820,"y":8},{"s":"p5","x":830,"y":7},{"s":"p5","x":843,"y":3},{"s":"p5","x":850,"y":8},{"s":"p5","x":860,"y":10},{"s":"p5","x":870,"y":9},{"s":"p5","x":880,"y":11},{"s":"p5","x":890,"y":8},{"s":"p5","x":900,"y":10},{"s":"p5","x":910,"y":9},{"s":"p5","x":920,"y":7},{"s":"p5","x":930,"y":10},{"s":"p5","x":940,"y":8},{"s":"p5","x":950,"y":11},{"s":"p5","x":960,"y":9},{"s":"p5","x":970,"y":14},{"s":"p5","x":980,"y":9},{"s":"p5","x":990,"y":10},{"s":"p5","x":1000,"y":7},{"s":"p5","x":1010,"y":9},{"s":"p5","x":1020,"y":8},{"s":"p5","x":1030,"y":11},{"s":"p5","x":1040,"y":9},{"s":"p5","x":1050,"y":13},{"s":"p5","x":1060,"y":8},{"s":"p5","x":1068,"y":10},{"s":"p5","x":1075,"y":3},{"s":"p5","x":1085,"y":9},{"s":"p5","x":1095,"y":11},{"s":"p5","x":1105,"y":8},{"s":"p5","x":1115,"y":10},{"s":"p5","x":1125,"y":9},{"s":"p5","x":1135,"y":11},{"s":"p5","x":1145,"y":8},{"s":"p5","x":1155,"y":10},{"s":"p5","x":1165,"y":9},{"s":"p5","x":1175,"y":7},{"s":"p5","x":1185,"y":10},{"s":"p5","x":1195,"y":9},{"s":"p5","x":1205,"y":11},{"s":"p5","x":1215,"y":8},{"s":"p5","x":1225,"y":10},{"s":"p5","x":1235,"y":12},{"s":"p5","x":1245,"y":9},{"s":"p5","x":1255,"y":10},{"s":"p5","x":1265,"y":8},{"s":"p5","x":1275,"y":11},{"s":"p5","x":1285,"y":9},{"s":"p5","x":1295,"y":7},{"s":"p5","x":1305,"y":10},{"s":"p5","x":1315,"y":9},{"s":"p5","x":1325,"y":12},{"s":"p5","x":1335,"y":9},{"s":"p5","x":1345,"y":10},{"s":"p5","x":1355,"y":8},{"s":"p5","x":1365,"y":11},{"s":"p5","x":1375,"y":9},{"s":"p5","x":1385,"y":10},{"s":"p5","x":1395,"y":7},{"s":"p5","x":1406,"y":4},{"s":"p5","x":1415,"y":9},{"s":"p5","x":1425,"y":11},{"s":"p5","x":1435,"y":8},{"s":"p5","x":1445,"y":10},{"s":"p5","x":1455,"y":12},{"s":"p5","x":1465,"y":9},{"s":"p5","x":1475,"y":11},{"s":"p5","x":1485,"y":13},{"s":"p5","x":1495,"y":9},{"s":"p5","x":1505,"y":12},{"s":"p5","x":1515,"y":10},{"s":"p5","x":1525,"y":13},{"s":"p5","x":1535,"y":11},{"s":"p5","x":1545,"y":9},{"s":"p5","x":1555,"y":10},{"s":"p5","x":1565,"y":7},{"s":"p5","x":1575,"y":10},{"s":"p5","x":1585,"y":9},{"s":"p5","x":1595,"y":11},{"s":"p5","x":1605,"y":8},{"s":"p5","x":1615,"y":10},{"s":"p5","x":1625,"y":9},{"s":"p5","x":1635,"y":12},{"s":"p5","x":1645,"y":8},{"s":"p5","x":1655,"y":11},{"s":"p5","x":1665,"y":9},{"s":"p5","x":1675,"y":12},{"s":"p5","x":1685,"y":10},{"s":"p5","x":1695,"y":13},{"s":"p5","x":1700,"y":9}
],
"hbr":[
{"x":730,"y":369,"x2":976,"y2":369},{"x":730,"y":369,"x2":730,"y2":355},{"x":976,"y":369,"x2":976,"y2":355},
{"x":1232,"y":293,"x2":1680,"y2":293},{"x":1232,"y":293,"x2":1232,"y2":283},{"x":1680,"y":293,"x2":1680,"y2":283}
],
"pbr":[
{"x":733,"y":299,"x2":986,"y2":299},{"x":733,"y":299,"x2":733,"y2":291},{"x":986,"y":299,"x2":986,"y2":291},
{"x":1276,"y":351,"x2":1676,"y2":351},{"x":1276,"y":351,"x2":1276,"y2":343},{"x":1676,"y":351,"x2":1676,"y2":343}
],
"hlab":[
{"t":"97.7 kW/cm²","x":724,"y":239},{"t":"19.5 kW/cm²","x":731,"y":165},{"t":"9.77 kW/cm²","x":731,"y":100},{"t":"1.95 kW/cm²","x":731,"y":40},{"t":"Photoproduct","x":1004,"y":361},{"t":"Carbon","x":1372,"y":300}
],
"plab":[
{"t":"9.77 kW/cm²","x":724,"y":225},{"t":"1.95 kW/cm²","x":724,"y":195},{"t":"195 W/cm²","x":730,"y":130},{"t":"97.7 W/cm²","x":730,"y":65},{"t":"0.195 W/cm²","x":730,"y":25},{"t":"Photoproduct","x":744,"y":311},{"t":"Carbon","x":1403,"y":360},{"t":"D band","x":1280,"y":322},{"t":"G","x":1639,"y":331},{"t":"band","x":1639,"y":312}
],
"htitle":[{"t":"Hemin","x":1482,"y":360}],
"ptitle":[{"t":"Protoporphyrin IX","x":724,"y":360}],
"hpanel":[{"t":"a)","x":622,"y":364}],
"ppanel":[{"t":"b)","x":622,"y":364}]
},
"hconcat":[
{"width":293,"height":372,
"encoding":{
"x":{"field":"x","type":"quantitative","scale":{"domain":[700,1700],"nice":false,"zero":false},"axis":{"title":"Raman Shift [cm⁻¹]","values":[700,900,1100,1300,1500,1700],"format":"d"}},
"y":{"field":"y","type":"quantitative","scale":{"domain":[0,372],"nice":false},"axis":{"title":"Intensity"}}},
"layer":[
{"data":{"name":"hbr"},"mark":{"type":"rule","color":"#bfbfbf","strokeWidth":1},"encoding":{"x2":{"field":"x2"},"y2":{"field":"y2"}}},
{"data":{"name":"hemin"},"mark":{"type":"line","strokeJoin":"round"},"encoding":{
"color":{"field":"s","type":"nominal","scale":{"domain":["h1","h2","h3","h4"],"range":["#333333","#111111","#111111","#111111"]},"legend":null},
"strokeWidth":{"field":"s","type":"nominal","scale":{"domain":["h1","h2","h3","h4"],"range":[1.4,1.8,1.8,1.8]},"legend":null}}},
{"data":{"name":"hlab"},"mark":{"type":"text","align":"left","baseline":"middle","fontSize":13.5,"color":"#595959"},"encoding":{"text":{"field":"t"}}},
{"data":{"name":"htitle"},"mark":{"type":"text","align":"left","baseline":"middle","fontSize":17.5,"fontStyle":"italic","color":"#000000"},"encoding":{"text":{"field":"t"}}},
{"data":{"name":"hpanel"},"mark":{"type":"text","align":"left","baseline":"middle","fontSize":16,"color":"#000000"},"encoding":{"text":{"field":"t"}}}
]},
{"width":293,"height":372,
"encoding":{
"x":{"field":"x","type":"quantitative","scale":{"domain":[700,1700],"nice":false,"zero":false},"axis":{"title":"Raman Shift [cm⁻¹]","values":[700,900,1100,1300,1500,1700],"format":"d"}},
"y":{"field":"y","type":"quantitative","scale":{"domain":[0,372],"nice":false},"axis":{"title":"Intensity"}}},
"layer":[
{"data":{"name":"pbr"},"mark":{"type":"rule","color":"#bfbfbf","strokeWidth":1},"encoding":{"x2":{"field":"x2"},"y2":{"field":"y2"}}},
{"data":{"name":"ppix"},"mark":{"type":"line","strokeJoin":"round"},"encoding":{
"color":{"field":"s","type":"nominal","scale":{"domain":["p1","p2","p3","p4","p5"],"range":["#505050","#111111","#111111","#111111","#111111"]},"legend":null},
"strokeWidth":{"field":"s","type":"nominal","scale":{"domain":["p1","p2","p3","p4","p5"],"range":[1.2,1.8,1.8,1.8,1.8]},"legend":null}}},
{"data":{"name":"plab"},"mark":{"type":"text","align":"left","baseline":"middle","fontSize":13.5,"color":"#595959"},"encoding":{"text":{"field":"t"}}},
{"data":{"name":"ptitle"},"mark":{"type":"text","align":"left","baseline":"middle","fontSize":17.5,"fontStyle":"italic","color":"#000000"},"encoding":{"text":{"field":"t"}}},
{"data":{"name":"ppanel"},"mark":{"type":"text","align":"left","baseline":"middle","fontSize":16,"color":"#000000"},"encoding":{"text":{"field":"t"}}}
]}
]
}
